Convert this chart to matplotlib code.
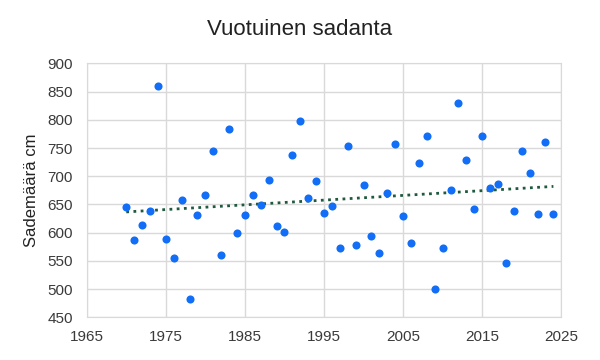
import numpy as np
import matplotlib
matplotlib.use("Agg")
import matplotlib.pyplot as plt

plt.rcParams['font.family'] = ['Liberation Sans', 'DejaVu Sans']

years = list(range(1970, 2025))
values = [645, 587, 614, 638, 860, 589, 555, 657, 482, 631,
          666, 745, 561, 784, 599, 631, 667, 649, 693, 611,
          601, 737, 797, 662, 692, 635, 648, 572, 754, 578,
          684, 594, 564, 671, 757, 629, 582, 724, 772, 501,
          572, 676, 829, 728, 642, 772, 680, 686, 546, 638,
          745, 706, 633, 760, 633]

title = "Vuotuinen sadanta"
ylabel = "Sademäärä cm"
xticks = [1965, 1975, 1985, 1995, 2005, 2015, 2025]
yticks = [450, 500, 550, 600, 650, 700, 750, 800, 850, 900]

fig = plt.figure(figsize=(6, 3.6), dpi=100)
ax = fig.add_axes([0.1445, 0.1186, 0.791, 0.7054])

x = np.array(years)
y = np.array(values)
ax.scatter(x, y, s=34, color="#126ef6", zorder=3, linewidths=0)
k, b = np.polyfit(x, y, 1)
ax.plot([x.min(), x.max()], [k * x.min() + b, k * x.max() + b],
        linestyle=(0, (1, 1.6)), color="#1f5a3e", linewidth=2, zorder=2)

ax.set_xlim(1965, 2025)
ax.set_ylim(450, 900)
ax.set_xticks(xticks)
ax.set_yticks(yticks)
ax.grid(True, color="#d9d9d9", linewidth=1)
ax.set_axisbelow(True)
for s in ax.spines.values():
    s.set_color("#d9d9d9")
ax.tick_params(length=0, labelsize=11, colors="#3a3a3a")
ax.tick_params(axis="x", pad=9)
ax.tick_params(axis="y", pad=10)
ax.set_ylabel(ylabel, fontsize=12, color="#222222", labelpad=6)
fig.text(0.5, 0.918, title, ha="center", va="center", fontsize=16, color="#222222")

fig.savefig("out.png", dpi=100)
